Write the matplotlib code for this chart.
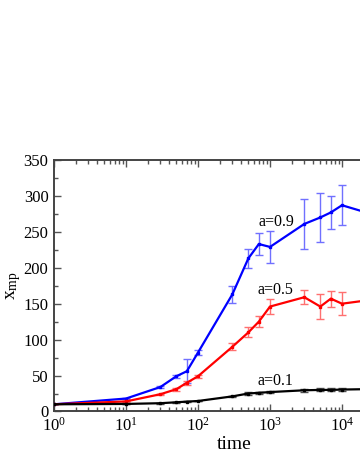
import numpy as np
import matplotlib
matplotlib.use('Agg')
import matplotlib.pyplot as plt

plt.rcParams['font.family'] = ['Liberation Serif', 'DejaVu Serif']
plt.rcParams['mathtext.fontset'] = 'custom'
plt.rcParams['mathtext.rm'] = 'Liberation Serif'
plt.rcParams['mathtext.it'] = 'Liberation Serif:italic'

# data
time = [1, 10, 30, 50, 70, 100, 300, 500, 700, 1000, 3000, 5000, 7000, 10000, 20000]

x_09 = [10, 18, 34, 49, 56, 82, 163, 213, 233, 229, 261, 270, 277, 287, 278]
err_09 = [0, 1, 2, 2, 17, 3, 12, 13, 15, 22, 35, 34, 23, 28, 25]

x_05 = [10, 14, 24, 31, 40, 49, 90, 110, 125, 146, 159, 146, 157, 150, 154]
err_05 = [0, 1, 1, 2, 3, 2, 5, 7, 8, 11, 10, 17, 11, 16, 12]

x_01 = [10, 10.5, 11.5, 12.8, 13.7, 14.6, 21, 25, 26, 27, 29.5, 30, 30, 30.5, 31]
err_01 = [0, 0.5, 0.5, 0.5, 0.5, 0.5, 1, 1.5, 1.5, 1.5, 2, 2, 2, 2, 2]

series = [
    (x_09, err_09, '#0000ff', '#7070ff', 'a=0.9', (700, 263)),
    (x_05, err_05, '#ff0000', '#ff7070', 'a=0.5', (670, 169)),
    (x_01, err_01, '#000000', '#505050', 'a=0.1', (670, 42.5)),
]

fig = plt.figure(figsize=(3.6, 4.66), dpi=100)
ax = fig.add_axes([0.15, 0.117, 1.0, 0.5397])

for y, e, col, ecol, lab, pos in series:
    ax.errorbar(time, y, yerr=e, fmt='none', ecolor=ecol, elinewidth=1.0,
                capsize=3, capthick=1.0, zorder=2)
    ax.plot(time, y, '-', color=col, lw=1.6, marker='s', ms=2, zorder=3)
    ax.text(pos[0], pos[1], lab, fontsize=11.5, va='center', ha='left')

ax.set_xscale('log')
ax.set_xlim(1, 1e5)
ax.set_ylim(0, 350)
ax.set_yticks(np.arange(0, 351, 50))
ax.set_yticks(np.arange(25, 350, 50), minor=True)

ax.tick_params(which='both', direction='in', top=True, right=True,
               labelsize=12, color='#555555', pad=4)
ax.tick_params(which='major', length=5, width=1)
ax.tick_params(which='minor', length=3, width=1)
for sp in ax.spines.values():
    sp.set_color('#444444')
    sp.set_linewidth(1.4)

ax.set_xlabel('time', fontsize=14, labelpad=1)
ax.set_ylabel(r'$\mathregular{x_{mp}}$', fontsize=14, labelpad=0)

fig.savefig('out.png', dpi=100)
